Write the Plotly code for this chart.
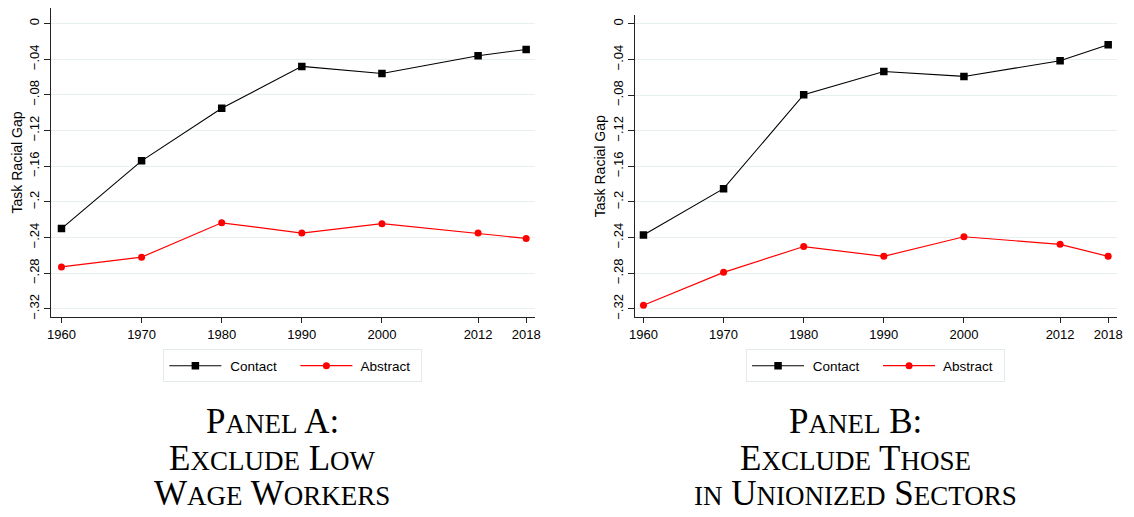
import plotly.graph_objects as go

years = [1960, 1970, 1980, 1990, 2000, 2012, 2018]
contact_a = [-0.230, -0.154, -0.095, -0.048, -0.056, -0.036, -0.029]
abstract_a = [-0.273, -0.262, -0.2235, -0.235, -0.2245, -0.235, -0.241]
contact_b = [-0.237, -0.185, -0.0795, -0.0535, -0.059, -0.0415, -0.0235]
abstract_b = [-0.316, -0.279, -0.250, -0.261, -0.239, -0.2475, -0.261]
ytick_vals = [0, -0.04, -0.08, -0.12, -0.16, -0.20, -0.24, -0.28, -0.32]
ytick_text = ["0", "−.04", "−.08", "−.12", "−.16", "−.2", "−.24", "−.28", "−.32"]
series_names = [" Contact", " Abstract"]
SC = "<span style='font-size:27px'>%s</span>"
title_a = ["P" + SC % "ANEL" + " A:",
           "E" + SC % "XCLUDE" + " L" + SC % "OW",
           "W" + SC % "AGE" + " W" + SC % "ORKERS"]
title_b = ["P" + SC % "ANEL" + " B:",
           "E" + SC % "XCLUDE" + " T" + SC % "HOSE",
           SC % "IN" + " U" + SC % "NIONIZED" + " S" + SC % "ECTORS"]

OFF = 8  # page body margin
W, H = 1134 - 2 * OFF, 517 - 2 * OFF
SANS = "Liberation Sans, Arial, sans-serif"
SERIF = "Liberation Serif, Times New Roman, serif"
GRID = "#e8eff1"

def fx(px):
    return (px - OFF) / W

def fy(py):
    return 1 - (py - OFF) / H

fig = go.Figure()

def add_panel(contact, abstract, xa, ya, leg):
    fig.add_trace(go.Scatter(x=years, y=contact, name=series_names[0], mode="lines+markers",
                             line=dict(color="black", width=1.1),
                             marker=dict(symbol="square", size=7.5, color="black"),
                             xaxis=xa, yaxis=ya, legend=leg, legendwidth=64))
    fig.add_trace(go.Scatter(x=years, y=abstract, name=series_names[1], mode="lines+markers",
                             line=dict(color="#ff0000", width=1.2),
                             marker=dict(symbol="circle", size=7, color="#ff0000"),
                             xaxis=xa, yaxis=ya, legend=leg, legendwidth=59))

add_panel(contact_a, abstract_a, "x", "y", "legend")
add_panel(contact_b, abstract_b, "x2", "y2", "legend2")

xcommon = dict(tickmode="array", tickvals=years, ticktext=[str(y) for y in years],
               showgrid=False, showline=True, linecolor="#222", linewidth=1,
               ticks="outside", ticklen=5, tickcolor="#222", zeroline=False,
               tickfont=dict(family=SANS, size=13, color="black"))
ycommon = dict(tickmode="array", tickvals=ytick_vals, ticktext=ytick_text,
               showgrid=True, gridcolor=GRID, gridwidth=1,
               showline=True, linecolor="#222", linewidth=1, ticks="outside", ticklen=6,
               tickcolor="#222", zeroline=False, tickangle=-90,
               tickfont=dict(family=SANS, size=13, color="black"),
               title=dict(text="Task Racial Gap", font=dict(family=SANS, size=14, color="black"), standoff=1))

legcommon = dict(orientation="h", xanchor="left", yanchor="top",
                 bordercolor="#e3eaec", borderwidth=1, itemwidth=52,
                 font=dict(family=SANS, size=13.5, color="black"))

fig.update_layout(
    width=W, height=H, margin=dict(l=0, r=0, t=0, b=0),
    paper_bgcolor="white", plot_bgcolor="white",
    xaxis=dict(domain=[fx(45.7), fx(534.3)], range=[1958.73, 2019.06], anchor="y", **xcommon),
    yaxis=dict(anchor="x", domain=[fy(318.8), fy(8)], range=[-0.3291, 0.0175], **ycommon),
    xaxis2=dict(domain=[fx(635.7), fx(1122.7)], range=[1958.94, 2019.07], anchor="y2", **xcommon),
    yaxis2=dict(anchor="x2", domain=[fy(319.3), fy(15)], range=[-0.3296, 0.01], **ycommon),
    legend=dict(x=fx(159), y=fy(351.5), **legcommon),
    legend2=dict(x=fx(748), y=fy(351.5), **legcommon),
    showlegend=True,
)

line_y = [424, 461, 496]
for cx, lines in [(269, title_a), (859, title_b)]:
    for ly, txt in zip(line_y, lines):
        fig.add_annotation(x=fx(cx), y=fy(ly), xref="paper", yref="paper",
                           xanchor="center", yanchor="middle", showarrow=False,
                           text=txt, font=dict(family=SERIF, size=35, color="black"))

fig.write_html("out.html")
